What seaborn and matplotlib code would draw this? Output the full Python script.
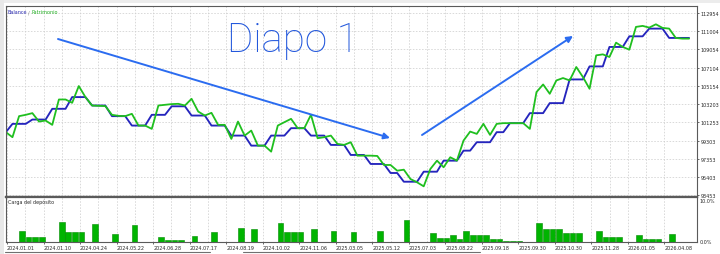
import numpy as np
import pandas as pd
import matplotlib
matplotlib.use("Agg")
import matplotlib.pyplot as plt
from matplotlib.lines import Line2D
from matplotlib.patches import Rectangle, FancyArrowPatch
import seaborn as sns

# ---------------- data ----------------
equity = [100203, 99667, 101917, 102057, 102239, 101339, 101446, 100985, 103696, 103696,
          103342, 105132, 103953, 103053, 103021, 102989, 102057, 101949, 101917, 102164,
          100910, 100910, 100556, 103053, 103128, 103203, 103235, 103053, 103771, 102410,
          101981, 102271, 100985, 100985, 99485, 101339, 99839, 100374, 98767, 98767,
          98124, 100910, 101274, 101628, 100631, 100631, 102057, 99560, 99667, 99839,
          98949, 98842, 99131, 97695, 97695, 97695, 97663, 96699, 96699, 96088,
          96196, 95199, 94845, 94417, 96270, 97160, 96453, 97524, 97160, 99303,
          100267, 100021, 101092, 99914, 101092, 101167, 101167, 101167, 101167, 100556,
          104489, 105303, 104307, 105732, 105989, 105732, 107168, 106096, 104842, 108411,
          108518, 108239, 109771, 109311, 109021, 111454, 111561, 111379, 111732, 111347,
          111271, 110275, 110200, 110200]

balance = [100203,
           101092, 101092, 101092, 101553, 101553, 101553, 102700, 102700, 102700,
           103953, 103953, 103953, 103053, 103053, 103053, 101917, 101917, 101917,
           100910, 100910, 100910, 102057, 102057, 102057, 102968, 102968, 102968,
           101981, 101981, 101981, 100910, 100910, 100910, 99839, 99839, 99839,
           98767, 98767, 98767, 99839, 99839, 99839, 100631, 100631, 100631,
           99839, 99839, 99839, 98842, 98842, 98842, 97770, 97770, 97770,
           96806, 96806, 96806, 95842, 95842, 94910, 94910, 94910,
           95981, 95981, 95981, 97160, 97160, 97160, 98231, 98231,
           99131, 99131, 99131, 100203, 100203, 101167, 101167, 101167,
           102239, 102239, 102239, 103310, 103310, 103310, 105839, 105839, 105839,
           107232, 107232, 107232, 109311, 109311, 109311, 110446, 110446, 110446,
           111271, 111271, 111271, 110275, 110275, 110275, 110275]

load_idx = [2, 3, 4, 5, 8, 9, 10, 11, 13, 16, 19, 23, 24, 25, 26, 28, 31, 35, 37,
            41, 42, 43, 44, 46, 49, 52, 56, 60, 64, 65, 66, 67, 68, 69, 70, 71, 72,
            73, 74, 75, 76, 77, 80, 81, 82, 83, 84, 85, 86, 89, 90, 91, 92, 95, 96,
            97, 98, 100]
load_pct = [2.4, 1.1, 1.1, 1.1, 4.4, 2.1, 2.1, 2.1, 4.0, 1.8, 3.8, 1.0, 0.45, 0.45,
            0.45, 1.35, 2.1, 3.0, 2.8, 4.2, 2.1, 2.1, 2.1, 2.8, 2.4, 2.3, 2.4, 4.75,
            1.9, 0.85, 0.85, 1.5, 0.6, 2.35, 1.5, 1.5, 1.5, 0.6, 0.6, 0.2, 0.2, 0.2,
            4.1, 2.8, 2.8, 2.8, 1.9, 1.9, 1.9, 2.5, 1.2, 1.2, 1.2, 1.6, 0.75, 0.75,
            0.75, 1.75]

date_labels = ["2024.01.01", "2024.01.10", "2024.04.24", "2024.05.22", "2024.06.28",
               "2024.07.17", "2024.08.19", "2024.10.02", "2024.11.06", "2025.03.05",
               "2025.05.12", "2025.07.03", "2025.08.22", "2025.09.18", "2025.09.30",
               "2025.10.30", "2025.11.28", "2026.01.05", "2026.04.08"]

y_ticks = [112954, 111004, 109054, 107104, 105154, 103203, 101253, 99303, 97353,
           95403, 93453]

# ---------------- style ----------------
sns.set_theme(style="white")
plt.rcParams["font.family"] = ["DejaVu Sans"]

W, H = 720, 255
fig = plt.figure(figsize=(W / 100, H / 100), dpi=100)
fig.patch.set_facecolor("white")


def rect(x0, y0, x1, y1):
    return [x0 / W, 1 - y1 / H, (x1 - x0) / W, (y1 - y0) / H]


def fx(x):
    return x / W


def fy(y):
    return 1 - y / H


ax = fig.add_axes(rect(5.5, 6.5, 697, 197.5))
axb = fig.add_axes(rect(5.5, 197.5, 697, 243))

GREEN = "#1fbf1f"
BLUE = "#2525bd"
GRID = "#cfcfcf"
TXT = "#2a2a2a"
FS = 3.5

df = pd.DataFrame({"i": np.arange(len(equity)), "Patrimonio": equity, "Balance": balance})
sns.lineplot(data=df, x="i", y="Balance", color=BLUE, lw=1.35, ax=ax, legend=False)
sns.lineplot(data=df, x="i", y="Patrimonio", color=GREEN, lw=1.3, ax=ax, legend=False)

xlim = (-0.05, 104.2)
ax.set_xlim(*xlim)
ax.set_ylim(93330, 113740)
ax.set_xlabel("")
ax.set_ylabel("")

major_x = 0.18 + 5.506 * np.arange(len(date_labels))
minor_x = major_x[:-1] + 2.753

for a in (ax, axb):
    a.set_xticks(major_x)
    a.set_xticks(minor_x, minor=True)
    a.grid(True, axis="x", which="both", color=GRID, linestyle=(0, (2, 2)), linewidth=0.55)
    for s in a.spines.values():
        s.set_color("#5a5a5a")
        s.set_linewidth(0.8)

ax.set_yticks(y_ticks)
ax.yaxis.tick_right()
ax.grid(True, axis="y", color=GRID, linestyle=(0, (2, 2)), linewidth=0.55)
ax.set_yticklabels([str(v) for v in y_ticks], fontsize=FS, color=TXT)
ax.tick_params(axis="y", which="both", right=True, length=1.5, width=0.5, pad=1.2,
               colors=TXT)
ax.tick_params(axis="x", which="both", bottom=False, labelbottom=False)
ax.spines["bottom"].set_linewidth(1.6)

# deposit load panel
axb.bar(np.array(load_idx) + 0.42, load_pct, width=0.85, color="#00b400",
        edgecolor="#008a00", linewidth=0.4)
axb.set_xlim(*xlim)
axb.set_ylim(0, 10)
axb.set_yticks([])
axb.set_xticklabels(date_labels, fontsize=FS, color=TXT, ha="left")
axb.tick_params(axis="x", which="major", bottom=True, length=1.5, width=0.5, pad=0.8,
                colors=TXT)
axb.tick_params(axis="x", which="minor", bottom=False)
axb.spines["top"].set_linewidth(1.6)
axb.text(1.004, 0.91, "10.0%", transform=axb.transAxes, fontsize=FS, color=TXT,
         ha="left", va="center")
axb.text(1.004, 0.0, "0.0%", transform=axb.transAxes, fontsize=FS, color=TXT,
         ha="left", va="center")
axb.text(0.003, 0.9, "Carga del depósito", transform=axb.transAxes, fontsize=FS,
         color=TXT, ha="left", va="center")

# legend-like title
fig.text(fx(7.3), fy(12.7), "Balance", fontsize=FS, color="#2a2ab0", ha="left", va="center")
fig.text(fx(27.5), fy(12.7), "/", fontsize=FS, color="#808080", ha="left", va="center")
fig.text(fx(31), fy(12.7), "Patrimonio", fontsize=FS, color="#22b022", ha="left", va="center")

# hand-drawn annotations
ANN = "#2b6cf0"
fig.text(fx(227), fy(52), "Diapo 1", fontsize=29, color="#2358dc", ha="left",
         va="baseline", family=["Roboto", "DejaVu Sans"], fontweight="light")
arrow = dict(arrowstyle="-|>", color=ANN, lw=1.4, mutation_scale=9, shrinkA=0, shrinkB=0)
fig.add_artist(FancyArrowPatch((fx(58), fy(40)), (fx(390), fy(139)),
                               transform=fig.transFigure, **arrow))
fig.add_artist(FancyArrowPatch((fx(422), fy(136)), (fx(573), fy(37)),
                               transform=fig.transFigure, **arrow))

# window chrome
fig.add_artist(Rectangle((0, fy(4)), 1, 4 / H, transform=fig.transFigure,
                         facecolor="#ececec", edgecolor="none"))
fig.add_artist(Rectangle((0, 0), 4 / W, 1, transform=fig.transFigure,
                         facecolor="#e8e8e8", edgecolor="none"))
fig.add_artist(Line2D([fx(5), fx(210)], [fy(253), fy(253)], transform=fig.transFigure,
                      color="#707070", lw=0.8))
fig.add_artist(Line2D([fx(243), fx(480)], [fy(253), fy(253)], transform=fig.transFigure,
                      color="#707070", lw=0.8))

fig.savefig("out.png", dpi=100, facecolor="white")
